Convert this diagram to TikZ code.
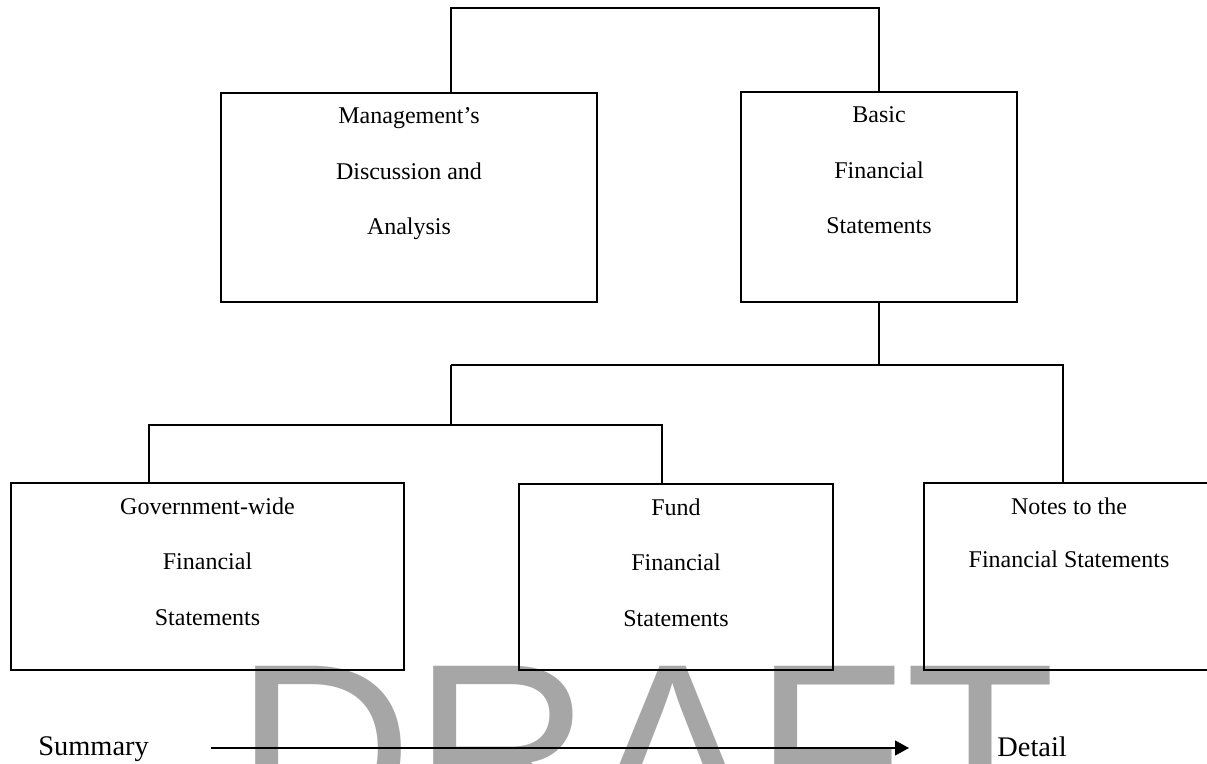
\documentclass[tikz,border=0pt]{standalone}
\usepackage{fontspec}
\setmainfont{Liberation Serif}
\newfontfamily\wmfont{Liberation Sans}[Kerning=Off]
\usetikzlibrary{arrows.meta}
\definecolor{wmgray}{RGB}{166,166,166}
\tikzset{
  box/.style={draw, line width=0.65pt, rectangle, inner sep=0pt},
  boxtext/.style={align=center, inner sep=0pt, anchor=north, font=\fontsize{12}{27.75}\selectfont},
  plain/.style={inner sep=0pt, anchor=base west, font=\fontsize{14.2}{16}\selectfont},
  link/.style={line width=0.65pt},
}
\begin{document}
\begin{tikzpicture}[x=0.5pt, y=-0.5pt]
\useasboundingbox (0,0) rectangle (1207,764);
\begin{scope}
\clip (0,0) rectangle (1207,764);
% watermark
\node[inner sep=0pt, anchor=base west, text=wmgray, font=\wmfont\fontsize{123}{123}\selectfont] (wm) at (235,836) {DRAFT};
% boxes
\node[box, minimum width=188pt, minimum height=104.5pt] (mda) at (409,197.5) {};
\node[box, minimum width=138pt, minimum height=105pt] (bfs) at (879,197) {};
\node[box, minimum width=196.5pt, minimum height=93.5pt] (gov) at (207.5,576.5) {};
\node[box, minimum width=157pt, minimum height=93pt] (fund) at (676,577) {};
\node[box, minimum width=145pt, minimum height=93.5pt] (notes) at (1069,576.5) {};
% texts
\node[boxtext] (mdaT) at ([yshift=-7.5pt]mda.north) {Management’s\\Discussion and\\Analysis};
\node[boxtext] (bfsT) at ([yshift=-7.5pt]bfs.north) {Basic\\Financial\\Statements};
\node[boxtext] (govT) at ([yshift=-7.5pt]gov.north) {Government-wide\\Financial\\Statements};
\node[boxtext] (fundT) at ([yshift=-7.5pt]fund.north) {Fund\\Financial\\Statements};
\node[boxtext, font=\fontsize{12}{26.5}\selectfont] (notesT) at ([yshift=-7.5pt]notes.north) {Notes to the\\Financial Statements};
% connectors
\coordinate (t1) at (451,8);
\coordinate (b1) at (451,365);
\coordinate (b2) at (1063,365);
\coordinate (c0) at (451,425);
\coordinate (c1) at (149,425);
\coordinate (c2) at (662,425);
\draw[link] (t1 |- mda.north) -- (t1) -| (bfs.north);
\draw[link] (bfs.south) -- (bfs.south |- b1);
\draw[link] (b1) -- (b2) -- (b2 |- notes.north);
\draw[link] (b1) -- (c0);
\draw[link] (c1 |- gov.north) -- (c1) -- (c2) -- (c2 |- fund.north);
% summary / detail
\node[plain] (sum) at (38,756) {Summary};
\node[plain] (det) at (997,757) {Detail};
\coordinate (arrS) at (211,748);
\coordinate (arrE) at (909,748);
\draw[line width=0.6pt, -{Triangle[length=7pt,width=7.5pt]}] (arrS) -- (arrE);
\end{scope}
\end{tikzpicture}
\end{document}
